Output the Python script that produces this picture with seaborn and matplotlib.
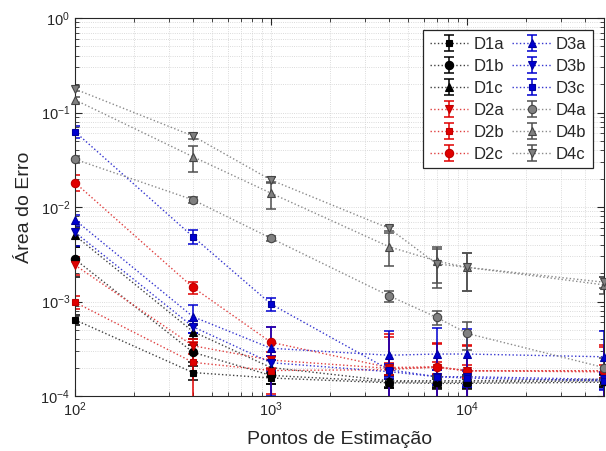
import numpy as np
import pandas as pd
import matplotlib
matplotlib.use("Agg")
import matplotlib.pyplot as plt
from matplotlib.legend_handler import HandlerTuple
import seaborn as sns

# Number of estimation points (x axis)
pontos = [100, 400, 1000, 4000, 7000, 10000, 50000]

# Error area per configuration
d1a = [6.4e-4, 1.77e-4, 1.55e-4, 1.38e-4, 1.36e-4, 1.36e-4, 1.40e-4]
d1b = [2.8e-3, 2.9e-4, 1.65e-4, 1.42e-4, 1.40e-4, 1.40e-4, 1.45e-4]
d1c = [5.0e-3, 4.8e-4, 2.0e-4, 1.45e-4, 1.45e-4, 1.45e-4, 1.50e-4]
d2a = [2.43e-3, 3.4e-4, 2.4e-4, 1.96e-4, 2.0e-4, 1.85e-4, 1.85e-4]
d2b = [9.8e-4, 2.27e-4, 1.86e-4, 1.9e-4, 2.04e-4, 1.85e-4, 1.80e-4]
d2c = [1.81e-2, 1.41e-3, 3.7e-4, 2.0e-4, 2.04e-4, 1.85e-4, 1.85e-4]
d3a = [7.3e-3, 6.9e-4, 3.2e-4, 2.7e-4, 2.78e-4, 2.78e-4, 2.6e-4]
d3b = [5.4e-3, 5.4e-4, 2.25e-4, 1.81e-4, 1.6e-4, 1.6e-4, 1.5e-4]
d3c = [6.26e-2, 4.85e-3, 9.4e-4, 1.9e-4, 1.6e-4, 1.55e-4, 1.45e-4]
d4a = [3.2e-2, 1.19e-2, 4.67e-3, 1.15e-3, 6.8e-4, 4.6e-4, 2.0e-4]
d4b = [0.136, 0.034, 0.014, 3.8e-3, 2.68e-3, 2.3e-3, 1.5e-3]
d4c = [0.177, 0.0564, 0.0193, 5.95e-3, 2.5e-3, 2.3e-3, 1.6e-3]

# Standard deviations
d1a_err = [8e-5, 3e-5, 2e-5, 1.5e-5, 1.5e-5, 1.5e-5, 1.5e-5]
d1b_err = [1.0e-3, 6e-5, 3e-5, 2e-5, 2e-5, 2e-5, 2e-5]
d1c_err = [1.2e-3, 8e-5, 4e-5, 2e-5, 2e-5, 2e-5, 2e-5]
d2a_err = [5e-4, 6e-5, 5e-5, 3e-5, 3e-5, 3e-5, 3e-5]
d2b_err = [1.5e-4, 1.5e-4, 8e-5, 2.3e-4, 1.5e-4, 1.55e-4, 1.5e-4]
d2c_err = [3.5e-3, 2e-4, 1.7e-4, 2.5e-4, 1.6e-4, 1.65e-4, 1.6e-4]
d3a_err = [1e-3, 2.3e-4, 2.2e-4, 2.2e-4, 2.5e-4, 2.3e-4, 2.3e-4]
d3b_err = [1.5e-3, 8e-5, 4e-5, 3e-5, 3e-5, 3e-5, 3e-5]
d3c_err = [9e-3, 8e-4, 1.5e-4, 3e-5, 3e-5, 3e-5, 3e-5]
d4a_err = [3e-3, 8e-4, 3e-4, 1.5e-4, 1.2e-4, 1.5e-4, 5e-5]
d4b_err = [0.01, 0.0105, 0.0045, 1.45e-3, 1.1e-3, 1.0e-3, 3e-4]
d4c_err = [0.01, 0.004, 1.5e-3, 4e-4, 1.1e-3, 1.0e-3, 2e-4]

nomes = ["D1a", "D1b", "D1c", "D2a", "D2b", "D2c",
         "D3a", "D3b", "D3c", "D4a", "D4b", "D4c"]
valores = [d1a, d1b, d1c, d2a, d2b, d2c, d3a, d3b, d3c, d4a, d4b, d4c]
erros = [d1a_err, d1b_err, d1c_err, d2a_err, d2b_err, d2c_err,
         d3a_err, d3b_err, d3c_err, d4a_err, d4b_err, d4c_err]

marcadores = ["s", "o", "^", "v"] * 3
estilos = {
    "D1": dict(face="#000000", edge="#000000", line="#404040", bar="#000000"),
    "D2": dict(face="#e00000", edge="#c00000", line="#e04040", bar="#e00000"),
    "D3": dict(face="#0000d0", edge="#0000a0", line="#3535d0", bar="#0000d0"),
    "D4": dict(face="#808080", edge="#454545", line="#8a8a8a", bar="#505050"),
}
tamanhos = {"s": 5, "o": 6, "^": 6, "v": 6}

sns.set_theme(style="ticks")
plt.rcParams["font.family"] = ["Liberation Sans", "DejaVu Sans"]
plt.rcParams["mathtext.default"] = "regular"

fig = plt.figure(figsize=(6.06, 4.51), dpi=100)
ax = fig.add_axes([75 / 606, 55 / 451, (604 - 75) / 606, (396 - 18) / 451])
ax.set_xscale("log")
ax.set_yscale("log")

handles = []
for nome, y, e, mk in zip(nomes, valores, erros, marcadores):
    st = estilos[nome[:2]]
    cont = ax.errorbar(pontos, y, yerr=e, fmt="none", ecolor=st["bar"],
                       elinewidth=1.1, capsize=3.5, capthick=1.1, zorder=2)
    df = pd.DataFrame({"pontos": pontos, "erro": y})
    sns.lineplot(data=df, x="pontos", y="erro", ax=ax, color=st["line"],
                 linestyle=":", linewidth=1.0, marker=mk,
                 markersize=tamanhos[mk], markerfacecolor=st["face"],
                 markeredgecolor=st["edge"], markeredgewidth=0.8,
                 errorbar=None, legend=False, zorder=3, clip_on=False)
    linha = ax.lines[-1]
    handles.append((cont, linha))

ax.set_xlim(100, 5e4)
ax.set_ylim(1e-4, 1)

ax.grid(True, which="both", linestyle=":", linewidth=0.6, color="#cfcfcf")
ax.tick_params(which="both", direction="in", top=True, right=True,
               colors="#262626", labelsize=10.5)
ax.tick_params(which="major", length=5, width=0.8)
ax.tick_params(which="minor", length=3, width=0.6)
for s in ax.spines.values():
    s.set_color("#262626")
    s.set_linewidth(0.8)

ax.set_xlabel("Pontos de Estimação", fontsize=14, color="#262626", labelpad=8)
ax.set_ylabel("Área do Erro", fontsize=14, color="#262626", labelpad=5)

leg = ax.legend(handles, nomes, ncol=2, loc="upper right",
                bbox_to_anchor=((593 - 75) / (604 - 75), (396 - 30) / (396 - 18)),
                borderaxespad=0, fontsize=12, numpoints=1,
                handler_map={tuple: HandlerTuple(ndivide=1)},
                handlelength=2.3, handletextpad=0.3, columnspacing=0.5,
                labelspacing=0.42, frameon=True, fancybox=False,
                borderpad=0.4)
leg.get_frame().set_edgecolor("#262626")
leg.get_frame().set_linewidth(0.9)
leg.get_frame().set_alpha(1)
for t in leg.get_texts():
    t.set_color("#262626")

fig.savefig("out.png", dpi=100)
